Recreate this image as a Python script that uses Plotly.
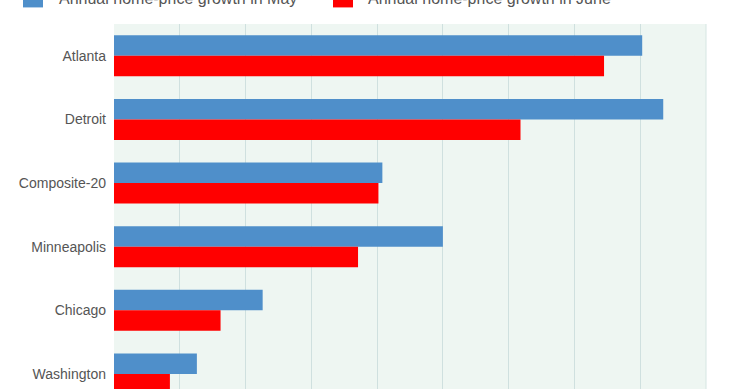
import plotly.graph_objects as go

cities = ["Atlanta", "Detroit", "Composite-20", "Minneapolis", "Chicago", "Washington"]
may_growth = [8.03, 8.35, 4.08, 5.0, 2.26, 1.26]
june_growth = [7.45, 6.18, 4.02, 3.71, 1.62, 0.85]
series_names = ["Annual home-price growth in May", "Annual home-price growth in June"]
series_colors = ["#4f8fca", "#ff0000"]

W, H = 740, 389
ml, mr, mt, mb = 114, 34, 23.6, 0
pw, ph = W - ml - mr, H - mt - mb

fig = go.Figure()
fig.add_trace(go.Bar(y=cities, x=may_growth, orientation="h", name=series_names[0],
                     marker=dict(color=series_colors[0], line=dict(width=0)), showlegend=False))
fig.add_trace(go.Bar(y=cities, x=june_growth, orientation="h", name=series_names[1],
                     marker=dict(color=series_colors[1], line=dict(width=0)), showlegend=False))

def px_x(p):
    return (p - ml) / pw

def px_y(p):
    return (H - mb - p) / ph

# manual legend (squares + labels)
for sx, tx, col, name in [(23, 57, series_colors[0], series_names[0]),
                          (333, 366, series_colors[1], series_names[1])]:
    fig.add_shape(type="rect", xref="paper", yref="paper",
                  x0=px_x(sx), x1=px_x(sx + 20), y0=px_y(7), y1=px_y(-13),
                  fillcolor=col, line=dict(width=0))
    fig.add_annotation(xref="paper", yref="paper", x=px_x(tx), y=px_y(-1.5),
                       xanchor="left", yanchor="middle", text=name, showarrow=False,
                       font=dict(family="Liberation Sans, Arial, sans-serif", size=16, color="#555555"))

# right border line of plot area
fig.add_shape(type="line", xref="paper", yref="paper", x0=1, x1=1, y0=0, y1=1,
              line=dict(color="#d6e6e3", width=1))

fig.update_layout(
    width=W, height=H,
    margin=dict(l=ml, r=mr, t=mt, b=mb, pad=0),
    paper_bgcolor="white",
    plot_bgcolor="#eef6f2",
    barmode="group",
    bargap=0.356,
    bargroupgap=0,
    font=dict(family="Liberation Sans, Arial, sans-serif", size=14, color="#555555"),
    xaxis=dict(range=[0, 9], dtick=1, showticklabels=False, showgrid=True,
               gridcolor="#cfe0df", gridwidth=1, zeroline=False, showline=False, fixedrange=True),
    yaxis=dict(range=[5.236, -0.5], type="category", showgrid=False, zeroline=False,
               showline=False, ticks="", ticklabelstandoff=7, fixedrange=True,
               tickfont=dict(size=14, color="#555555")),
)

fig.write_html("out.html", config={"displayModeBar": False},
               post_script="document.body.style.margin='0';document.body.style.overflow='hidden';")
